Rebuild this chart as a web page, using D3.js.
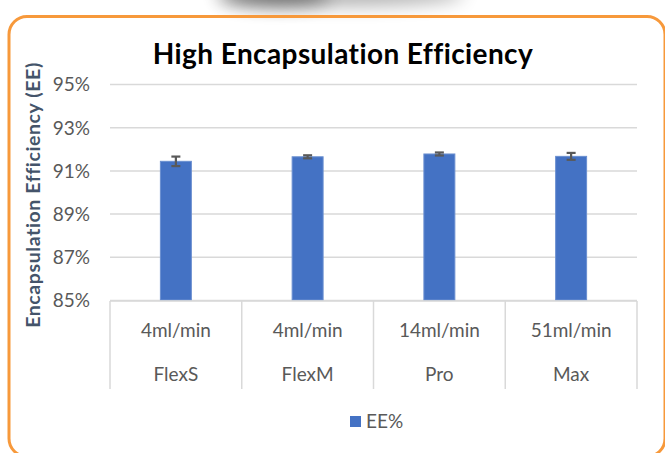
<!DOCTYPE html>
<html>
<head>
<meta charset="utf-8">
<script src="https://cdn.jsdelivr.net/npm/d3@7"></script>
<style>
  html, body { margin: 0; padding: 0; background: #fff; }
  svg { display: block; }
</style>
</head>
<body>
<div id="chart"></div>
<script>
// ---- data ----
const flowRates = ["4ml/min", "4ml/min", "14ml/min", "51ml/min"];
const models = ["FlexS", "FlexM", "Pro", "Max"];
const eeValues = [91.42, 91.63, 91.76, 91.65];
const eeErrors = [0.22, 0.07, 0.07, 0.16];
const yTicks = [85, 87, 89, 91, 93, 95];
const seriesName = "EE%";
const chartTitle = "High Encapsulation Efficiency";
const yTitle = "Encapsulation Efficiency (EE)";

// ---- layout ----
const W = 665, H = 453;
const plot = { left: 110, right: 637, top: 84, bottom: 300 };
const catBottom = 389;
const font = "Lato, 'Open Sans', sans-serif";

const svg = d3.select("#chart").append("svg")
  .attr("width", W).attr("height", H);

const defs = svg.append("defs");
const blur = defs.append("filter").attr("id", "blur")
  .attr("x", "-50%").attr("y", "-100%").attr("width", "200%").attr("height", "300%");
blur.append("feGaussianBlur").attr("stdDeviation", 9);

svg.append("rect").attr("width", W).attr("height", H).attr("fill", "#fff");

// decorative shadow at top
svg.append("ellipse")
  .attr("cx", 340).attr("cy", -6).attr("rx", 125).attr("ry", 12)
  .attr("fill", "#000").attr("opacity", 0.3).attr("filter", "url(#blur)");
svg.append("ellipse")
  .attr("cx", 275).attr("cy", -4).attr("rx", 55).attr("ry", 10)
  .attr("fill", "#000").attr("opacity", 0.45).attr("filter", "url(#blur)");

// orange rounded frame
svg.append("rect")
  .attr("x", 9).attr("y", 16.5).attr("width", 656).attr("height", 440).attr("rx", 18)
  .attr("fill", "none").attr("stroke", "#F7993B").attr("stroke-width", 3);

// ---- scales ----
const x = d3.scaleBand().domain(d3.range(models.length))
  .range([plot.left, plot.right]).padding(0);
const y = d3.scaleLinear().domain([85, 95]).range([plot.bottom, plot.top]);
const barW = x.bandwidth() * 0.235;

// gridlines + tick labels
const yAxis = d3.axisLeft(y).tickValues(yTicks)
  .tickSize(-(plot.right - plot.left)).tickPadding(20)
  .tickFormat(d => d + "%");
const gy = svg.append("g").attr("transform", `translate(${plot.left},0)`).call(yAxis);
gy.select(".domain").remove();
gy.selectAll(".tick line").attr("stroke", "#D9D9D9").attr("stroke-width", 1.5);
gy.selectAll(".tick text")
  .attr("fill", "#595959").attr("font-family", font).attr("font-size", 19)
  .attr("x", -20).attr("dy", "0.36em");

// bars
svg.append("g").selectAll("rect").data(eeValues).join("rect")
  .attr("x", (d, i) => x(i) + x.bandwidth() / 2 - barW / 2)
  .attr("y", d => y(d))
  .attr("width", barW)
  .attr("height", d => y(85) - y(d))
  .attr("fill", "#4472C4")
  .attr("stroke", "#6A8FD0").attr("stroke-width", 1);

// error bars
const eg = svg.append("g").attr("stroke", "#595959").attr("stroke-width", 2.2);
eeValues.forEach((v, i) => {
  const cx = x(i) + x.bandwidth() / 2;
  const e = eeErrors[i];
  eg.append("line").attr("x1", cx).attr("x2", cx).attr("y1", y(v + e)).attr("y2", y(v - e));
  [v + e, v - e].forEach(t => {
    eg.append("line").attr("x1", cx - 4.5).attr("x2", cx + 4.5).attr("y1", y(t)).attr("y2", y(t));
  });
});

// category axis (two levels)
const ca = svg.append("g").attr("stroke", "#D9D9D9").attr("stroke-width", 1.5);
ca.append("line").attr("x1", plot.left).attr("x2", plot.right)
  .attr("y1", plot.bottom + 1).attr("y2", plot.bottom + 1);
d3.range(models.length + 1).forEach(i => {
  const xx = i < models.length ? x(i) : plot.right;
  ca.append("line").attr("x1", xx).attr("x2", xx)
    .attr("y1", plot.bottom + 1).attr("y2", catBottom);
});
svg.append("g").selectAll("text").data(flowRates).join("text")
  .attr("x", (d, i) => x(i) + x.bandwidth() / 2).attr("y", 337)
  .attr("text-anchor", "middle").attr("fill", "#595959")
  .attr("font-family", font).attr("font-size", 19).text(d => d);
svg.append("g").selectAll("text").data(models).join("text")
  .attr("x", (d, i) => x(i) + x.bandwidth() / 2).attr("y", 381)
  .attr("text-anchor", "middle").attr("fill", "#595959")
  .attr("font-family", font).attr("font-size", 19).text(d => d);

// title
svg.append("text").attr("x", 343).attr("y", 64).attr("text-anchor", "middle")
  .attr("font-family", font).attr("font-weight", "bold").attr("font-size", 28)
  .attr("letter-spacing", 0.4)
  .attr("fill", "#000").text(chartTitle);

// y-axis title
svg.append("text")
  .attr("transform", `translate(40,195) rotate(-90)`)
  .attr("text-anchor", "middle")
  .attr("font-family", font).attr("font-weight", "bold").attr("font-size", 19.5)
  .attr("letter-spacing", 0.6)
  .attr("fill", "#44546A").text(yTitle);

// legend
const lg = svg.append("g");
lg.append("rect").attr("x", 350).attr("y", 416).attr("width", 11).attr("height", 11)
  .attr("fill", "#4472C4");
lg.append("text").attr("x", 366).attr("y", 428)
  .attr("font-family", font).attr("font-size", 19).attr("fill", "#595959").text(seriesName);
</script>
</body>
</html>
